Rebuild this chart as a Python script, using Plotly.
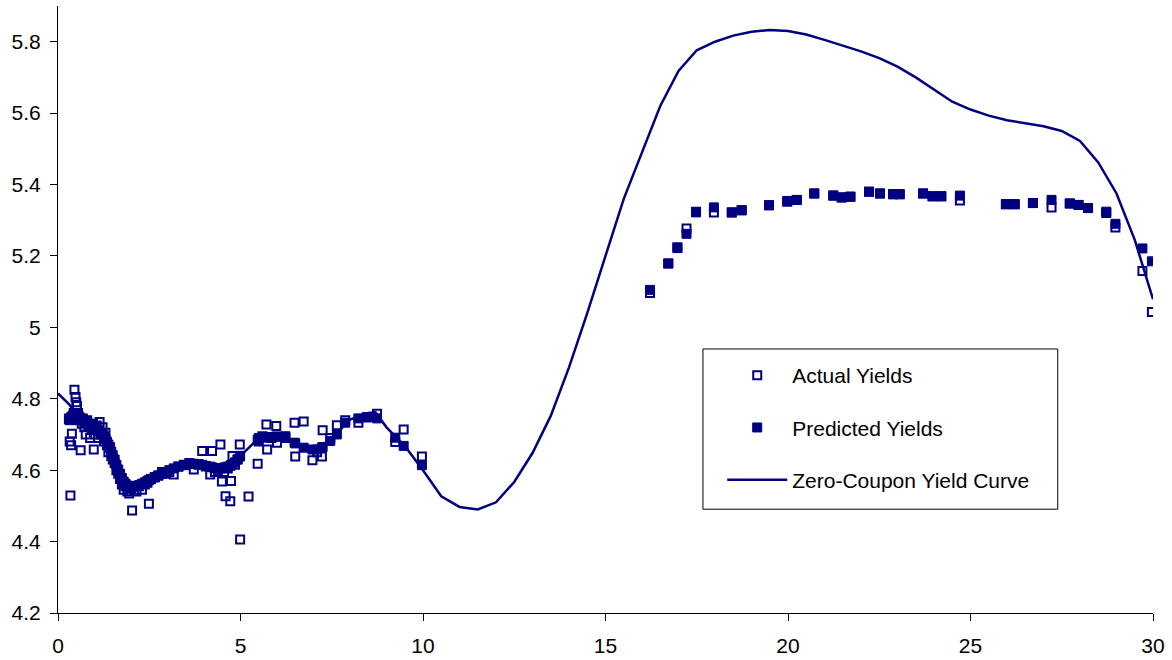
import plotly.graph_objects as go

# Bond maturities (years), observed yields and model-predicted yields (%)
maturity = [
    0.30, 0.32, 0.34, 0.36, 0.38, 0.40, 0.43, 0.45, 0.48, 0.50, 0.52, 0.55, 0.58, 0.62,
    0.65, 0.68, 0.72, 0.76, 0.80, 0.84, 0.88, 0.92, 0.96, 0.98, 1.02, 1.06, 1.10, 1.14,
    1.18, 1.22, 1.26, 1.30, 1.34, 1.38, 1.42, 1.46, 1.50, 1.55, 1.60, 1.65, 1.70, 1.75,
    1.80, 1.85, 1.90, 1.95, 2.00, 2.03, 2.08, 2.15, 2.22, 2.30, 2.38, 2.45, 2.49, 2.55,
    2.65, 2.75, 2.85, 2.95, 3.05, 3.17, 3.30, 3.45, 3.60, 3.72, 3.85, 3.95, 4.05, 4.17,
    4.22, 4.30, 4.38, 4.45, 4.49, 4.55, 4.59, 4.65, 4.72, 4.74, 4.78, 4.85, 4.92, 4.98,
    4.99, 5.22, 5.47, 5.50, 5.60, 5.71, 5.73, 5.85, 5.98, 6.00, 6.23, 6.48, 6.50, 6.73,
    6.97, 7.10, 7.23, 7.25, 7.46, 7.64, 7.87, 8.23, 8.46, 8.74, 9.24, 9.47, 9.97,
    16.22, 16.72, 16.97, 17.22, 17.48, 17.97, 18.46, 18.73, 19.48, 19.98, 20.24, 20.72,
    21.24, 21.47, 21.71, 22.22, 22.52, 22.88, 23.06, 23.70, 23.96, 24.20, 24.71, 25.97,
    26.21, 26.71, 27.22, 27.72, 27.96, 28.22, 28.72, 28.97, 29.71, 29.97,
]
actual_yield = [
    4.745, 4.680, 4.529, 4.670, 4.702, 4.745, 4.760, 4.825, 4.805, 4.790, 4.780, 4.760, 4.740, 4.656,
    4.730, 4.745, 4.720, 4.700, 4.740, 4.725, 4.690, 4.715, 4.730, 4.658, 4.700, 4.725, 4.690, 4.735,
    4.700, 4.720, 4.680, 4.705, 4.670, 4.650, 4.665, 4.640, 4.630, 4.620, 4.600, 4.590, 4.575, 4.560,
    4.545, 4.555, 4.540, 4.535, 4.550, 4.487, 4.545, 4.540, 4.555, 4.545, 4.560, 4.565, 4.506, 4.575,
    4.580, 4.585, 4.595, 4.590, 4.595, 4.588, 4.610, 4.615, 4.620, 4.602, 4.615, 4.654, 4.610, 4.588,
    4.654, 4.595, 4.600, 4.672, 4.568, 4.595, 4.527, 4.605, 4.513, 4.570, 4.640, 4.615, 4.630, 4.672,
    4.406, 4.526, 4.618, 4.680, 4.695, 4.728, 4.658, 4.690, 4.724, 4.677, 4.690, 4.733, 4.638, 4.736,
    4.628, 4.650, 4.638, 4.712, 4.690, 4.726, 4.740, 4.733, 4.748, 4.758, 4.679, 4.714, 4.638,
    5.096, 5.179, 5.224, 5.277, 5.324, 5.322, 5.322, 5.328, 5.342, 5.352, 5.357, 5.375,
    5.369, 5.364, 5.366, 5.380, 5.375, 5.373, 5.373, 5.375, 5.367, 5.367, 5.355, 5.345,
    5.345, 5.348, 5.336, 5.347, 5.343, 5.334, 5.320, 5.280, 5.158, 5.043,
]
predicted_yield = [
    4.742, 4.740, 4.745, 4.748, 4.750, 4.752, 4.755, 4.760, 4.758, 4.756, 4.755, 4.752, 4.750, 4.745,
    4.742, 4.740, 4.738, 4.735, 4.733, 4.730, 4.728, 4.725, 4.722, 4.720, 4.718, 4.715, 4.712, 4.708,
    4.705, 4.700, 4.695, 4.688, 4.680, 4.672, 4.662, 4.652, 4.642, 4.630, 4.615, 4.602, 4.590, 4.578,
    4.568, 4.562, 4.557, 4.555, 4.553, 4.553, 4.555, 4.556, 4.558, 4.562, 4.566, 4.570, 4.572, 4.575,
    4.580, 4.585, 4.590, 4.595, 4.600, 4.605, 4.610, 4.614, 4.617, 4.618, 4.617, 4.615, 4.612, 4.610,
    4.608, 4.606, 4.605, 4.605, 4.606, 4.607, 4.608, 4.610, 4.612, 4.614, 4.617, 4.622, 4.630, 4.638,
    4.640, None, 4.685, 4.690, 4.692, 4.692, 4.692, 4.693, 4.694, 4.694, 4.695, 4.677, 4.675, 4.663,
    4.658, 4.658, 4.663, 4.665, 4.682, 4.700, 4.733, 4.745, 4.748, 4.745, 4.691, 4.668, 4.614,
    5.105, 5.179, 5.222, 5.262, 5.322, 5.336, 5.322, 5.328, 5.342, 5.354, 5.357, 5.375,
    5.369, 5.364, 5.366, 5.380, 5.375, 5.373, 5.373, 5.375, 5.367, 5.367, 5.369, 5.345,
    5.345, 5.348, 5.357, 5.347, 5.343, 5.334, 5.324, 5.290, 5.221, 5.185,
]

# Fitted zero-coupon yield curve
curve_years = [
    0.0, 0.3, 0.5, 0.75, 1.0, 1.25, 1.5, 1.75, 2.0, 2.5, 3.0, 3.5, 4.0, 4.5, 5.0, 5.5,
    6.0, 6.5, 7.0, 7.5, 8.0, 8.5, 8.7, 9.0, 9.5, 10.0, 10.5, 11.0, 11.5, 12.0, 12.5,
    13.0, 13.5, 14.0, 14.5, 15.0, 15.5, 16.0, 16.5, 17.0, 17.5, 18.0, 18.5, 19.0, 19.5,
    20.0, 20.5, 21.0, 21.5, 22.0, 22.5, 23.0, 23.5, 24.0, 24.5, 25.0, 25.5, 26.0, 26.5,
    27.0, 27.5, 28.0, 28.5, 29.0, 29.5, 30.0,
]
curve_yield = [
    4.815, 4.785, 4.757, 4.740, 4.722, 4.698, 4.645, 4.578, 4.553, 4.572, 4.598, 4.615,
    4.615, 4.606, 4.640, 4.690, 4.694, 4.676, 4.657, 4.688, 4.742, 4.760, 4.762, 4.720,
    4.668, 4.600, 4.527, 4.497, 4.490, 4.510, 4.567, 4.648, 4.752, 4.888, 5.040, 5.200,
    5.360, 5.490, 5.620, 5.718, 5.776, 5.800, 5.817, 5.828, 5.833, 5.830, 5.820, 5.805,
    5.790, 5.773, 5.754, 5.730, 5.700, 5.665, 5.632, 5.610, 5.593, 5.580, 5.571, 5.563,
    5.550, 5.522, 5.462, 5.375, 5.245, 5.079,
]

x_ticks = [0, 5, 10, 15, 20, 25, 30]
y_ticks = [4.2, 4.4, 4.6, 4.8, 5.0, 5.2, 5.4, 5.6, 5.8]
y_tick_text = ["4.2", "4.4", "4.6", "4.8", "5", "5.2", "5.4", "5.6", "5.8"]

NAVY = "#000080"
FONT = "Liberation Sans, Arial, sans-serif"
FONT_SIZE = 21

fig = go.Figure()

fig.add_trace(go.Scatter(
    x=maturity, y=actual_yield, mode="markers", name="Actual Yields",
    legendgroup="a",
    marker=dict(symbol="square-open", size=8, color=NAVY, line=dict(width=2, color=NAVY)),
))
fig.add_trace(go.Scatter(
    x=maturity, y=predicted_yield, mode="markers", name="Predicted Yields",
    legendgroup="p",
    marker=dict(symbol="square", size=9, color=NAVY, line=dict(width=1, color=NAVY)),
))
fig.add_trace(go.Scatter(
    x=curve_years, y=curve_yield, mode="lines", name="Zero-Coupon Yield Curve",
    legendgroup="c",
    line=dict(color=NAVY, width=2.5),
))

# Legend frame, drawn as a rectangle in plot-area coordinates
fig.add_shape(
    type="rect", xref="paper", yref="paper",
    x0=0.589, x1=0.913, y0=0.171, y1=0.435,
    line=dict(color="black", width=1), fillcolor="rgba(0,0,0,0)",
)

fig.update_layout(
    width=1172, height=660,
    margin=dict(l=58, r=19, t=6, b=47),
    paper_bgcolor="white", plot_bgcolor="white",
    font=dict(family=FONT, size=FONT_SIZE, color="black"),
    showlegend=True,
    legend=dict(
        x=0.6066, y=0.425, xanchor="left", yanchor="top",
        borderwidth=0, bgcolor="rgba(0,0,0,0)",
        font=dict(family=FONT, size=FONT_SIZE, color="black"),
        tracegroupgap=22, itemwidth=60,
    ),
    xaxis=dict(
        range=[0, 30], tickvals=x_ticks, showgrid=False, zeroline=False,
        showline=True, linecolor="black", linewidth=1,
        ticks="outside", ticklen=7, tickcolor="black",
        ticklabelstandoff=7, automargin=False,
        tickfont=dict(family=FONT, size=FONT_SIZE, color="black"),
    ),
    yaxis=dict(
        range=[4.2, 5.9], tickvals=y_ticks, ticktext=y_tick_text,
        showgrid=False, zeroline=False,
        showline=True, linecolor="black", linewidth=1,
        ticks="outside", ticklen=7, tickcolor="black",
        ticklabelstandoff=5, automargin=False,
        tickfont=dict(family=FONT, size=FONT_SIZE, color="black"),
    ),
)

fig.write_html("out.html")
